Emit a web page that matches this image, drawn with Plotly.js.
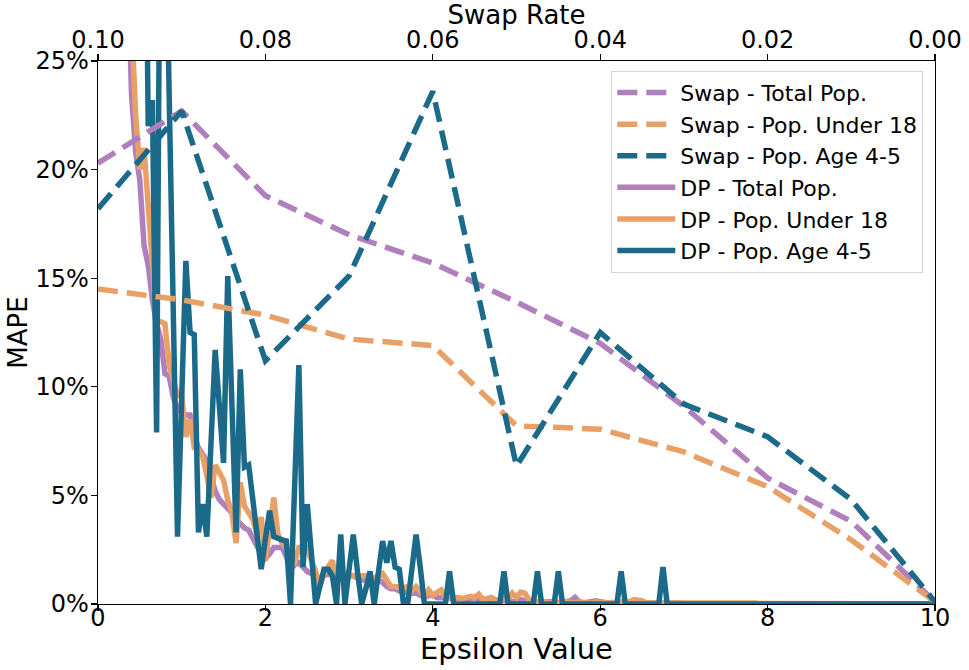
<!DOCTYPE html>
<html>
<head>
<meta charset="utf-8">
<script src="https://cdn.plot.ly/plotly-3.0.1.min.js"></script>
<style>
  html, body { margin: 0; padding: 0; background: #fff; }
  #chart { width: 969px; height: 670px; }
</style>
</head>
<body>
<div id="chart"></div>
<script>
// swap results, one point per swap rate
var swapRate = [0.10, 0.09, 0.08, 0.07, 0.06, 0.05, 0.04, 0.03, 0.02, 0.01, 0.00];
var swapTotal = [20.3, 22.7, 18.8, 17.0, 15.7, 13.9, 12.0, 9.1, 5.8, 3.8, 0.1];
var swapUnder18 = [14.5, 14.0, 13.3, 12.2, 11.9, 8.2, 8.05, 7.0, 5.4, 2.95, 0.1];
var swapAge45 = [18.2, 22.7, 11.2, 15.1, 23.6, 6.35, 12.5, 9.2, 7.7, 4.8, 0.1];

// DP results, epsilon from 0.10 to 10.00 in steps of 0.05 (10 values per row)
var dpTotal = [
  95, 75, 58, 46, 37, 30, 23.5, 20.8, 19.5, 16.5,
  15.6, 14.0, 12.9, 12.2, 10.6, 10.5, 9.5, 9.0, 8.8, 8.7,
  8.7, 7.7, 7.2, 6.9, 6.6, 5.9, 5.2, 4.8, 4.6, 4.4,
  4.2, 3.9, 3.7, 3.5, 3.4, 3.0, 2.6, 2.3, 2.1, 2.3,
  2.6, 2.6, 2.6, 2.2, 1.6, 1.8, 1.9, 1.7, 1.5, 1.4,
  1.3, 1.2, 1.3, 1.4, 1.3, 1.2, 1.3, 1.3, 1.3, 1.3,
  1.2, 1.1, 1.1, 1.0, 1.0, 1.1, 1.0, 0.8, 0.7, 0.7,
  0.6, 0.6, 0.5, 0.5, 0.5, 0.4, 0.3, 0.4, 0.4, 0.3,
  0.3, 0.3, 0.3, 0.25, 0.3, 0.25, 0.2, 0.25, 0.3, 0.2,
  0.2, 0.15, 0.2, 0.2, 0.15, 0.2, 0.15, 0.1, 0.15, 0.2,
  0.15, 0.1, 0.1, 0.1, 0.1, 0.15, 0.1, 0.1, 0.05, 0.1,
  0.1, 0.15, 0.3, 0.1, 0.05, 0.1, 0.1, 0.15, 0.1, 0.05,
  0.05, 0.05, 0.05, 0.1, 0.05, 0.05, 0.05, 0.05, 0.1, 0.05,
  0.05, 0.05, 0.05, 0.05, 0.05, 0.05, 0.05, 0.05, 0.02, 0.02,
  0.05, 0.02, 0.02, 0.02, 0.02, 0.02, 0.02, 0.02, 0.02, 0.02,
  0.02, 0.02, 0.05, 0.02, 0.02, 0.02, 0.02, 0.02, 0.02, 0.02,
  0.02, 0.01, 0.02, 0.02, 0.01, 0.02, 0.01, 0.01, 0.02, 0.01,
  0.01, 0.01, 0.02, 0.01, 0.01, 0.01, 0.01, 0.01, 0.01, 0.01,
  0.01, 0.01, 0.01, 0.01, 0.01, 0.01, 0.01, 0.01, 0.01, 0.01,
  0.01, 0.01, 0.01, 0.01, 0.01, 0.01, 0.01, 0.01, 0.01
];
var dpUnder18 = [
  110, 85, 66, 52, 42, 34, 27, 22.5, 20.0, 21.0,
  18.5, 15.8, 13.0, 13.0, 12.9, 11.0, 10.2, 9.6, 9.6, 7.7,
  8.5, 7.2, 7.1, 6.8, 5.9, 4.9, 6.4, 6.0, 5.7, 4.8,
  4.2, 2.8, 5.6, 4.5, 4.2, 3.9, 3.2, 4.0, 2.0, 3.5,
  4.9, 3.2, 2.8, 2.6, 2.0, 1.9, 2.6, 2.6, 2.6, 2.0,
  1.5, 0.8, 1.4, 1.7, 2.0, 0.9, 1.5, 1.2, 1.3, 1.3,
  1.3, 1.3, 1.3, 1.2, 1.2, 1.3, 1.4, 1.1, 0.8, 0.8,
  0.75, 0.75, 0.8, 0.6, 0.8, 0.6, 0.3, 0.65, 0.4, 0.55,
  0.65, 0.3, 0.3, 0.35, 0.3, 0.25, 0.3, 0.35, 0.3, 0.45,
  0.2, 0.25, 0.3, 0.2, 0.1, 0.3, 0.2, 0.5, 0.3, 0.55,
  0.5, 0.2, 0.1, 0.1, 0.15, 0.1, 0.05, 0.1, 0.05, 0.05,
  0.1, 0.05, 0.05, 0.1, 0.05, 0.05, 0.05, 0.1, 0.05, 0.05,
  0.05, 0.05, 0.05, 0.05, 0.05, 0.1, 0.2, 0.2, 0.15, 0.05,
  0.05, 0.05, 0.05, 0.05, 0.05, 0.05, 0.05, 0.05, 0.05, 0.05,
  0.05, 0.05, 0.05, 0.05, 0.05, 0.05, 0.05, 0.05, 0.05, 0.05,
  0.05, 0.1, 0.1, 0.05, 0.05, 0.05, 0.02, 0.02, 0.02, 0.02,
  0.02, 0.02, 0.02, 0.01, 0.02, 0.02, 0.01, 0.02, 0.01, 0.01,
  0.01, 0.01, 0.01, 0.01, 0.01, 0.01, 0.01, 0.01, 0.01, 0.01,
  0.01, 0.01, 0.01, 0.01, 0.01, 0.01, 0.01, 0.01, 0.01, 0.01,
  0.01, 0.01, 0.01, 0.01, 0.01, 0.01, 0.01, 0.01, 0.01
];
var dpAge45 = [
  140, 110, 90, 75, 62, 52, 44, 36, 25.2, 40,
  22.0, 23.2, 7.9, 38, 34, 23.5, 13, 3.1, 9.5, 15.8,
  12.5, 12.4, 3.3, 4.6, 3.1, 7.4, 11.7, 9.1, 6.5, 15.1,
  9.2, 3.3, 10.8, 6.3, 6.4, 4.8, 3.2, 1.6, 3.0, 4.3,
  3.1, 3.0, 2.95, 2.9, 0, 5.5, 11.0, 1.7, 4.6, 2.3,
  0, 0.8, 1.6, 1.6, 1.3, 0, 3.2, 0, 1.6, 3.2,
  1.5, 0, 0.7, 1.5, 0, 1.4, 2.9, 1.9, 2.9, 1.7,
  1.6, 0, 0, 1.6, 3.2, 1.7, 0, 0, 0, 0,
  0, 0, 1.5, 0, 0, 0, 0, 0, 0, 0,
  0, 0, 0, 0, 0, 1.5, 0, 0, 0, 0,
  0, 0, 0, 1.5, 0, 0, 0, 0, 1.5, 0,
  0, 0, 0, 0, 0, 0, 0, 0, 0, 0,
  0, 0, 0, 1.5, 0, 0, 0, 0, 0, 0,
  0, 0, 0, 1.7, 0, 0, 0, 0, 0, 0,
  0, 0, 0, 0, 0, 0, 0, 0, 0, 0,
  0, 0, 0, 0, 0, 0, 0, 0, 0, 0,
  0, 0, 0, 0, 0, 0, 0, 0, 0, 0,
  0, 0, 0, 0, 0, 0, 0, 0, 0, 0,
  0, 0, 0, 0, 0, 0, 0, 0, 0, 0,
  0, 0, 0, 0, 0, 0, 0, 0, 0
];
var epsilon = dpTotal.map(function (v, i) { return Math.round((0.1 + 0.05 * i) * 100) / 100; });

var yTicks = [0, 5, 10, 15, 20, 25];
var yTickText = ['0%', '5%', '10%', '15%', '20%', '25%'];

var purple = '#b07fbe';
var orange = '#e9a066';
var blue = '#1c6a8a';
var lw = 5.5;
var dash = '20px,9px';

function swapTrace(name, y, color) {
  return {
    x: swapRate, y: y, name: name,
    type: 'scatter', mode: 'lines', xaxis: 'x2', yaxis: 'y',
    line: { color: color, width: lw, dash: dash }, hoverinfo: 'none'
  };
}
function dpTrace(name, y, color) {
  return {
    x: epsilon, y: y, name: name,
    type: 'scatter', mode: 'lines', xaxis: 'x', yaxis: 'y',
    line: { color: color, width: lw }, hoverinfo: 'none'
  };
}

var data = [
  swapTrace('Swap - Total Pop.', swapTotal, purple),
  swapTrace('Swap - Pop. Under 18', swapUnder18, orange),
  swapTrace('Swap - Pop. Age 4-5', swapAge45, blue),
  dpTrace('DP - Total Pop.', dpTotal, purple),
  dpTrace('DP - Pop. Under 18', dpUnder18, orange),
  dpTrace('DP - Pop. Age 4-5', dpAge45, blue)
];

var tickFont = { family: 'DejaVu Sans', size: 24, color: '#000' };

var layout = {
  width: 969, height: 670,
  margin: { l: 98, r: 34, t: 61, b: 66, pad: 0 },
  paper_bgcolor: '#fff', plot_bgcolor: '#fff',
  font: { family: 'DejaVu Sans', color: '#000' },
  showlegend: true,
  legend: {
    x: 0.986, y: 0.982, xanchor: 'right', yanchor: 'top',
    bgcolor: 'rgba(255,255,255,0.8)', bordercolor: '#d4d4d4', borderwidth: 1,
    font: { family: 'DejaVu Sans', size: 22, color: '#000' },
    traceorder: 'normal', itemwidth: 58
  },
  xaxis: {
    range: [0, 10], tickvals: [0, 2, 4, 6, 8, 10],
    showgrid: false, zeroline: false,
    showline: true, linecolor: '#000', linewidth: 1.3, mirror: true,
    ticks: 'outside', ticklen: 6, tickwidth: 1.3, tickcolor: '#000',
    tickfont: tickFont, ticklabelstandoff: -14,
    title: { text: 'Epsilon Value', font: { family: 'DejaVu Sans', size: 29, color: '#000' }, standoff: 4 }
  },
  xaxis2: {
    overlaying: 'x', side: 'top', anchor: 'y',
    range: [0.1, 0], tickvals: [0.1, 0.08, 0.06, 0.04, 0.02, 0], tickformat: '.2f',
    showgrid: false, zeroline: false,
    showline: true, linecolor: '#000', linewidth: 1.3,
    ticks: 'outside', ticklen: 6, tickwidth: 1.3, tickcolor: '#000',
    tickfont: tickFont, ticklabelstandoff: -4,
    title: { text: 'Swap Rate', font: { family: 'DejaVu Sans', size: 26, color: '#000' }, standoff: 5 }
  },
  yaxis: {
    range: [0, 25], tickmode: 'array', tickvals: yTicks, ticktext: yTickText,
    showgrid: false, zeroline: false,
    showline: true, linecolor: '#000', linewidth: 1.3, mirror: true,
    ticks: 'outside', ticklen: 6, tickwidth: 1.3, tickcolor: '#000',
    tickfont: tickFont, ticklabelstandoff: -3,
    title: { text: 'MAPE', font: { family: 'DejaVu Sans', size: 26, color: '#000' }, standoff: 0 }
  }
};

Plotly.newPlot('chart', data, layout, { staticPlot: true, displayModeBar: false });
</script>
</body>
</html>
